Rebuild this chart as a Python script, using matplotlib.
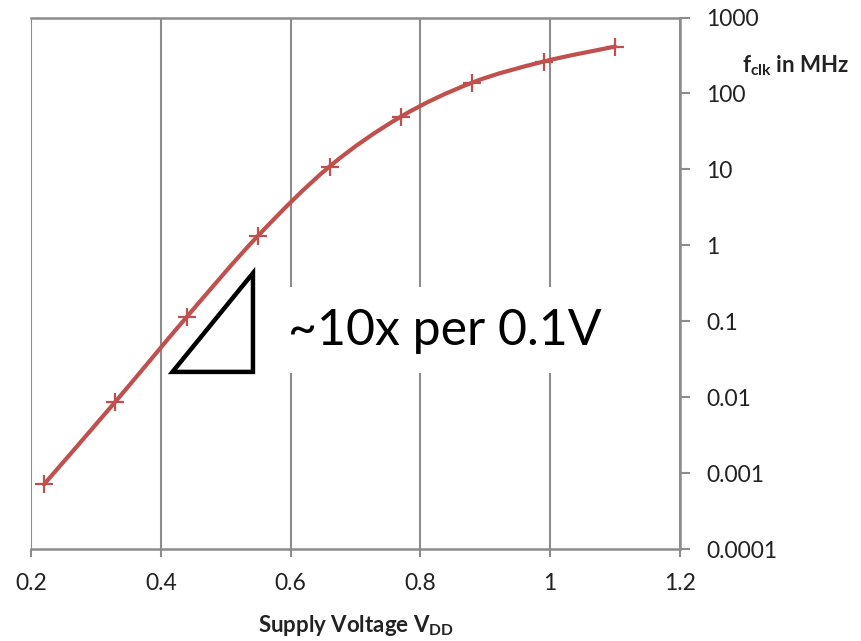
import numpy as np
import matplotlib.pyplot as plt
from matplotlib.path import Path
from matplotlib.patches import PathPatch, Rectangle, Polygon

# Data
vdd = [0.22, 0.33, 0.44, 0.55, 0.66, 0.77, 0.88, 0.99, 1.10]
fclk = [0.00071, 0.0087, 0.114, 1.34, 10.9, 49.5, 139, 263, 414]
xticks = [0.2, 0.4, 0.6, 0.8, 1.0, 1.2]
xtick_labels = ['0.2', '0.4', '0.6', '0.8', '1', '1.2']
yticks = [0.0001, 0.001, 0.01, 0.1, 1, 10, 100, 1000]
ytick_labels = ['0.0001', '0.001', '0.01', '0.1', '1', '10', '100', '1000']

red = '#C0504D'
grey = '#8C8C8C'

plt.rcParams['font.family'] = ['Lato', 'DejaVu Sans']
plt.rcParams['mathtext.fontset'] = 'custom'
plt.rcParams['mathtext.rm'] = 'Lato'
plt.rcParams['mathtext.bf'] = 'Lato:bold'

fig = plt.figure(figsize=(8.62, 6.41), dpi=100)
ax = fig.add_axes([31/862, 92/641, 649/862, 531.5/641])
ax.set_yscale('log')
ax.set_xlim(0.2, 1.2)
ax.set_ylim(1e-4, 1e3)

# smoothed line (Excel style bezier), built in x / log10(y) space
x = np.array(vdd)
ly = np.log10(fclk)
verts = [(x[0], fclk[0])]
codes = [Path.MOVETO]
n = len(x)
for i in range(n - 1):
    i0 = max(i - 1, 0)
    i3 = min(i + 2, n - 1)
    c1x = x[i] + (x[i + 1] - x[i0]) / 6
    c1y = ly[i] + (ly[i + 1] - ly[i0]) / 6
    c2x = x[i + 1] - (x[i3] - x[i]) / 6
    c2y = ly[i + 1] - (ly[i3] - ly[i]) / 6
    verts += [(c1x, 10**c1y), (c2x, 10**c2y), (x[i + 1], fclk[i + 1])]
    codes += [Path.CURVE4] * 3
ax.add_patch(PathPatch(Path(verts, codes), fill=False, edgecolor=red,
                       lw=3.0, zorder=3, capstyle='round'))
ax.plot(vdd, fclk, linestyle='none', marker='+', ms=13, mew=1.6,
        color=red, zorder=4)

# grid and axes
ax.set_xticks(xticks)
ax.set_xticklabels(xtick_labels)
ax.set_yticks(yticks)
ax.set_yticklabels(ytick_labels)
ax.yaxis.set_minor_locator(plt.NullLocator())
ax.yaxis.tick_right()
ax.grid(axis='x', color=grey, lw=1.5)
ax.set_axisbelow(True)
ax.spines['left'].set_visible(False)
for s in ['top', 'bottom', 'right']:
    ax.spines[s].set_color(grey)
    ax.spines[s].set_linewidth(1.8)
ax.tick_params(axis='x', direction='out', length=6, width=1.5, color=grey,
               labelsize=16.5, pad=11, labelcolor='#222222')
ax.tick_params(axis='y', direction='out', length=7, width=1.5, color=grey,
               labelsize=16.5, pad=12, labelcolor='#222222')

ax.set_xlabel(r'Supply Voltage V$_{\mathbf{DD}}$', fontsize=16,
              fontweight='bold', labelpad=14, color='#222222')
fig.text(742/862, 1 - 66/641, r'f$_{\mathbf{clk}}$ in MHz', fontsize=16,
         fontweight='bold', va='center', ha='left', color='#222222')

# annotation: white box, slope triangle and text
ax.add_patch(Rectangle((0.56, 0.021), 0.54, 0.284 - 0.021, facecolor='white',
                       edgecolor='none', zorder=1.5))
ax.add_patch(Polygon([(0.418, 0.0215), (0.542, 0.0215), (0.542, 0.43)],
                     closed=True, fill=False, edgecolor='black', lw=3.2,
                     joinstyle='miter', zorder=2))
ax.text(0.596, 0.074, '~10x per 0.1V', fontsize=36, va='center', ha='left',
        color='black', zorder=2)

plt.savefig('out.png', dpi=100)
